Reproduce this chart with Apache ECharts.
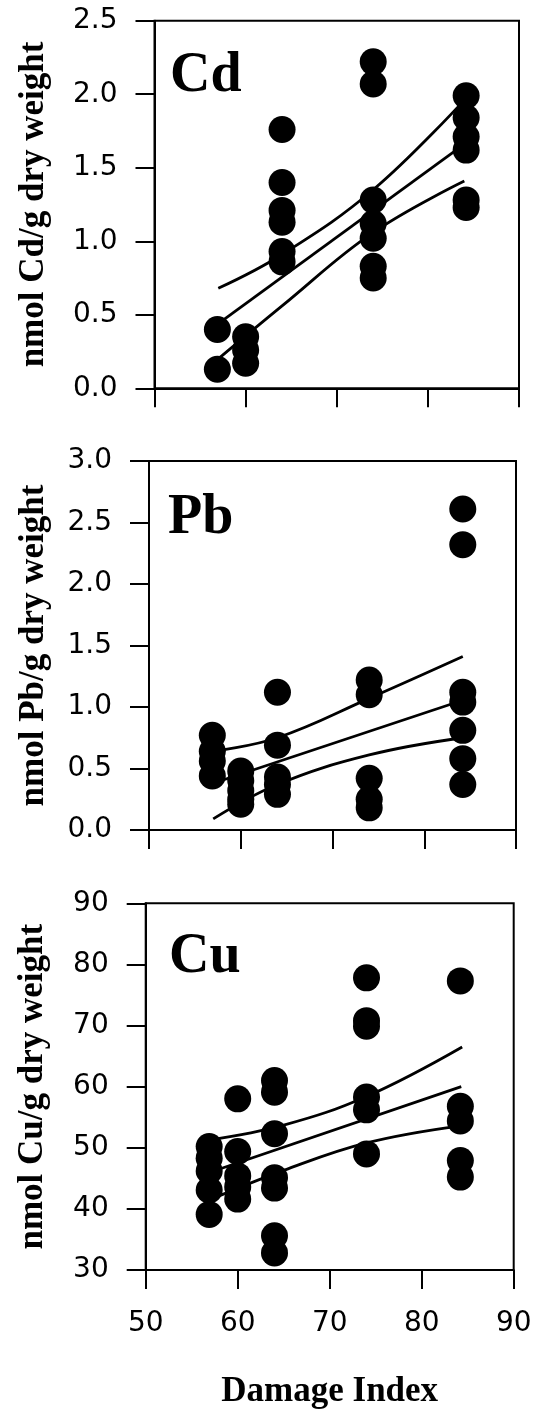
<!DOCTYPE html>
<html>
<head>
<meta charset="utf-8">
<script src="https://cdn.jsdelivr.net/npm/echarts@6/dist/echarts.min.js"></script>
<style>
  html, body { margin: 0; padding: 0; background: #fff; }
  #chart { width: 535px; height: 1412px; }
</style>
</head>
<body>
<div id="chart"></div>
<script>
// Damage index of the five sampling sites
const damageIndex = [56.9, 60.0, 64.0, 74.0, 84.2];

// Individual sample concentrations (nmol/g dry weight), grouped by site
const cdValues = [
  [0.40, 0.13],
  [0.35, 0.26, 0.17],
  [1.76, 1.40, 1.21, 1.13, 0.93, 0.86],
  [2.22, 2.07, 1.28, 1.12, 1.02, 0.83, 0.75],
  [1.99, 1.84, 1.71, 1.62, 1.28, 1.23]
];
const pbValues = [
  [0.77, 0.64, 0.56, 0.44],
  [0.48, 0.40, 0.32, 0.25, 0.21],
  [1.12, 0.69, 0.43, 0.37, 0.29],
  [1.22, 1.10, 0.42, 0.25, 0.18],
  [2.61, 2.32, 1.12, 1.04, 0.81, 0.58, 0.37]
];
const cuValues = [
  [50.2, 48.3, 46.2, 43.1, 39.1],
  [58.0, 49.4, 45.4, 43.6, 41.6],
  [61.0, 59.1, 52.3, 45.1, 43.4, 35.6, 32.8],
  [77.8, 70.8, 69.9, 58.3, 56.2, 49.0],
  [77.3, 56.8, 54.4, 47.9, 45.2]
];

// Regression lines and 95% confidence limits: [damage index, concentration]
const cdFit   = [[57, 0.44], [84, 1.66]];
const cdUpper = [[57, 0.68], [64, 0.91], [74, 1.35], [84, 1.96]];
const cdLower = [[57, 0.20], [64, 0.56], [74, 1.06], [84, 1.41]];

const pbFit   = [[57, 0.38], [84.2, 1.055]];
const pbUpper = [[57, 0.64], [64, 0.75], [74, 1.07], [84.2, 1.41]];
const pbLower = [[57, 0.09], [64, 0.37], [74, 0.61], [84.2, 0.75]];

const cuFit   = [[57, 46.0], [84.3, 60.0]];
const cuUpper = [[57, 51.3], [65, 53.7], [74, 58.4], [84.4, 66.5]];
const cuLower = [[57, 41.5], [65, 46.3], [74, 50.8], [84.2, 53.6]];

// Axis ranges and tick labels
const xTicks = [50, 60, 70, 80, 90];
const cdTicks = [0.0, 0.5, 1.0, 1.5, 2.0, 2.5];
const pbTicks = [0.0, 0.5, 1.0, 1.5, 2.0, 2.5, 3.0];
const cuTicks = [30, 40, 50, 60, 70, 80, 90];

const metals = ['Cd', 'Pb', 'Cu'];
const yTitles = ['nmol Cd/g dry weight', 'nmol Pb/g dry weight', 'nmol Cu/g dry weight'];
const xTitle = 'Damage Index';

const panels = [
  { values: cdValues, fit: cdFit, upper: cdUpper, lower: cdLower, ticks: cdTicks, digits: 1,
    grid: { left: 154.5, top: 20.7, width: 364.5, height: 367.6 }, nameGap: 103, tag: { x: 170, y: 49 } },
  { values: pbValues, fit: pbFit, upper: pbUpper, lower: pbLower, ticks: pbTicks, digits: 1,
    grid: { left: 149, top: 461, width: 367, height: 369 }, nameGap: 98, tag: { x: 168, y: 491 } },
  { values: cuValues, fit: cuFit, upper: cuUpper, lower: cuLower, ticks: cuTicks, digits: 0,
    grid: { left: 145.7, top: 903.3, width: 368, height: 366.7 }, nameGap: 95, tag: { x: 169, y: 930 } }
];

const black = '#000';
const grids = [], xAxes = [], yAxes = [], series = [], titles = [];

panels.forEach((p, i) => {
  grids.push(Object.assign({ show: true, borderColor: black, borderWidth: 2,
    backgroundColor: 'transparent', containLabel: false }, p.grid));

  xAxes.push({
    type: 'value', gridIndex: i,
    min: xTicks[0], max: xTicks[xTicks.length - 1], interval: xTicks[1] - xTicks[0],
    splitLine: { show: false },
    axisLine: { show: true, lineStyle: { color: black, width: 2 } },
    axisTick: { show: true, inside: false, length: 19, lineStyle: { color: black, width: 2 } },
    axisLabel: { show: i === 2, color: black, fontFamily: 'DejaVu Sans', fontSize: 28, margin: 40 },
    name: i === 2 ? xTitle : '',
    nameLocation: 'middle', nameGap: 104,
    nameTextStyle: { color: black, fontFamily: 'Liberation Serif', fontWeight: 'bold', fontSize: 35 }
  });

  yAxes.push({
    type: 'value', gridIndex: i,
    min: p.ticks[0], max: p.ticks[p.ticks.length - 1], interval: p.ticks[1] - p.ticks[0],
    splitLine: { show: false },
    axisLine: { show: true, lineStyle: { color: black, width: 2 } },
    axisTick: { show: true, inside: false, length: 19, lineStyle: { color: black, width: 2 } },
    axisLabel: { color: black, fontFamily: 'DejaVu Sans', fontSize: 28, margin: 37,
      formatter: v => v.toFixed(p.digits) },
    name: yTitles[i], nameLocation: 'middle', nameRotate: 90, nameGap: p.nameGap,
    nameTextStyle: { color: black, fontFamily: 'Liberation Serif', fontWeight: 'bold', fontSize: 35 }
  });

  const pts = [];
  p.values.forEach((col, k) => col.forEach(v => pts.push([damageIndex[k], v])));

  const lineStyle = { color: black, width: 2.8 };
  [p.upper, p.lower].forEach(band => series.push({
    type: 'line', xAxisIndex: i, yAxisIndex: i, data: band, smooth: 0.4,
    symbol: 'none', lineStyle, silent: true, z: 2
  }));
  series.push({
    type: 'line', xAxisIndex: i, yAxisIndex: i, data: p.fit,
    symbol: 'none', lineStyle, silent: true, z: 2
  });
  series.push({
    type: 'scatter', xAxisIndex: i, yAxisIndex: i, data: pts,
    symbol: 'circle', symbolSize: 27, itemStyle: { color: black, opacity: 1 }, z: 3
  });

  titles.push({
    text: metals[i], left: p.tag.x, top: p.tag.y, padding: 0,
    textStyle: { color: black, fontFamily: 'Liberation Serif', fontWeight: 'bold', fontSize: 56 }
  });
});

const chart = echarts.init(document.getElementById('chart'), null, { renderer: 'canvas' });
chart.setOption({
  animation: false,
  backgroundColor: '#fff',
  title: titles,
  grid: grids,
  xAxis: xAxes,
  yAxis: yAxes,
  series: series
});
</script>
</body>
</html>
